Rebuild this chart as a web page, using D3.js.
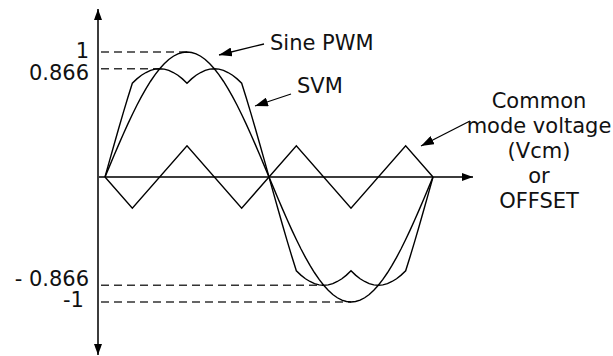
<!DOCTYPE html>
<html>
<head>
<meta charset="utf-8">
<script src="https://cdn.jsdelivr.net/npm/d3@7"></script>
<style>
  html, body { margin: 0; padding: 0; background: #fff; }
  svg { display: block; }
  text { font-family: "DejaVu Sans", Verdana, sans-serif; font-size: 21px; fill: #111; }
</style>
</head>
<body>
<svg id="chart" width="613" height="356"></svg>
<script>
// ---- data (angle in electrical degrees, per-unit values) ----
const angles = [0,5,10,15,20,25,30,35,40,45,50,55,60,65,70,75,80,85,90,95,100,105,110,115,120,125,130,135,140,145,150,155,160,165,170,175,180,
  185,190,195,200,205,210,215,220,225,230,235,240,245,250,255,260,265,270,275,280,285,290,295,300,305,310,315,320,325,330,335,340,345,350,355,360];
const sinePWM = [0,0.087,0.174,0.259,0.342,0.423,0.5,0.574,0.643,0.707,0.766,0.819,0.866,0.906,0.94,0.966,0.985,0.996,1,0.996,0.985,0.966,0.94,0.906,0.866,0.819,0.766,0.707,0.643,0.574,0.5,0.423,0.342,0.259,0.174,0.087,0,
  -0.087,-0.174,-0.259,-0.342,-0.423,-0.5,-0.574,-0.643,-0.707,-0.766,-0.819,-0.866,-0.906,-0.94,-0.966,-0.985,-0.996,-1,-0.996,-0.985,-0.966,-0.94,-0.906,-0.866,-0.819,-0.766,-0.707,-0.643,-0.574,-0.5,-0.423,-0.342,-0.259,-0.174,-0.087,0];
const svm = [0,0.131,0.26,0.388,0.513,0.634,0.75,0.785,0.814,0.836,0.853,0.863,0.866,0.863,0.853,0.836,0.814,0.785,0.75,0.785,0.814,0.836,0.853,0.863,0.866,0.863,0.853,0.836,0.814,0.785,0.75,0.634,0.513,0.388,0.26,0.131,0,
  -0.131,-0.26,-0.388,-0.513,-0.634,-0.75,-0.785,-0.814,-0.836,-0.853,-0.863,-0.866,-0.863,-0.853,-0.836,-0.814,-0.785,-0.75,-0.785,-0.814,-0.836,-0.853,-0.863,-0.866,-0.863,-0.853,-0.836,-0.814,-0.785,-0.75,-0.634,-0.513,-0.388,-0.26,-0.131,0];
const vcmAngles = [0,30,90,150,210,270,330,360];
const vcm = [0,-0.25,0.25,-0.25,0.25,-0.25,0.25,0];
const tickValues = [1,0.866,-0.866,-1];
const tickLabels = ["1","0.866","- 0.866","-1"];
const dashEndAngles = [90,60,240,270];
const annotationSine = "Sine PWM";
const annotationSVM = "SVM";
const annotationVcm = ["Common","mode voltage","(Vcm)","or","OFFSET"];

// ---- layout ----
const svg = d3.select("#chart");
const x = d3.scaleLinear().domain([0,360]).range([105,433]);
const y = d3.scaleLinear().domain([-1,1]).range([302,52]);
const axisX = 98;
const axisColor = "#3c3c3c";

const defs = svg.append("defs");
function marker(id, w, h, color) {
  defs.append("marker").attr("id", id)
    .attr("viewBox", `0 0 ${w} ${h}`).attr("refX", w).attr("refY", h/2)
    .attr("markerWidth", w).attr("markerHeight", h)
    .attr("markerUnits", "userSpaceOnUse").attr("orient", "auto")
    .append("path").attr("d", `M0,0L${w},${h/2}L0,${h}Z`).attr("fill", color);
}
marker("axArrow", 11, 8, "#000");
marker("annArrow", 13, 9, "#000");

// dashed reference lines
svg.append("g").selectAll("line").data(tickValues).join("line")
  .attr("x1", axisX + 3).attr("x2", (d,i) => x(dashEndAngles[i]))
  .attr("y1", d => y(d)).attr("y2", d => y(d))
  .attr("stroke", "#333").attr("stroke-width", 1.3).attr("stroke-dasharray", "8,5");

// axes
svg.append("line").attr("x1", axisX).attr("x2", axisX).attr("y1", y(0)).attr("y2", 9)
  .attr("stroke", axisColor).attr("stroke-width", 2).attr("marker-end", "url(#axArrow)");
svg.append("line").attr("x1", axisX).attr("x2", axisX).attr("y1", y(0)).attr("y2", 355)
  .attr("stroke", axisColor).attr("stroke-width", 2).attr("marker-end", "url(#axArrow)");
svg.append("line").attr("x1", axisX - 1).attr("x2", 473).attr("y1", y(0)).attr("y2", y(0))
  .attr("stroke", axisColor).attr("stroke-width", 2).attr("marker-end", "url(#axArrow)");

// tick labels
const labelDy = [6, 11, 1, 5];
const labelX = [89, 89, 89, 84];
svg.append("g").selectAll("text").data(tickValues).join("text")
  .attr("x", (d,i) => labelX[i]).attr("y", (d,i) => y(d) + labelDy[i])
  .attr("text-anchor", "end").text((d,i) => tickLabels[i]);

// curves
const line = d3.line().x(d => x(d[0])).y(d => y(d[1]));
svg.append("path").datum(angles.map((a,i) => [a, sinePWM[i]]))
  .attr("d", line).attr("fill", "none").attr("stroke", "#000").attr("stroke-width", 1.4);
svg.append("path").datum(angles.map((a,i) => [a, svm[i]]))
  .attr("d", line).attr("fill", "none").attr("stroke", "#000").attr("stroke-width", 1.4);
svg.append("path").datum(vcmAngles.map((a,i) => [a, vcm[i]]))
  .attr("d", line).attr("fill", "none").attr("stroke", "#000").attr("stroke-width", 1.4);

// annotations
function annArrow(x1, y1, x2, y2) {
  svg.append("line").attr("x1", x1).attr("y1", y1).attr("x2", x2).attr("y2", y2)
    .attr("stroke", "#000").attr("stroke-width", 1.3).attr("marker-end", "url(#annArrow)");
}
annArrow(264, 44, 219, 55);
svg.append("text").attr("x", 270).attr("y", 50).text(annotationSine);
annArrow(291, 94, 255, 106);
svg.append("text").attr("x", 297).attr("y", 93).text(annotationSVM);
annArrow(470, 121, 421, 146);
svg.append("g").selectAll("text").data(annotationVcm).join("text")
  .attr("x", 539).attr("y", (d,i) => 108 + i*25)
  .attr("text-anchor", "middle").text(d => d);
</script>
</body>
</html>
